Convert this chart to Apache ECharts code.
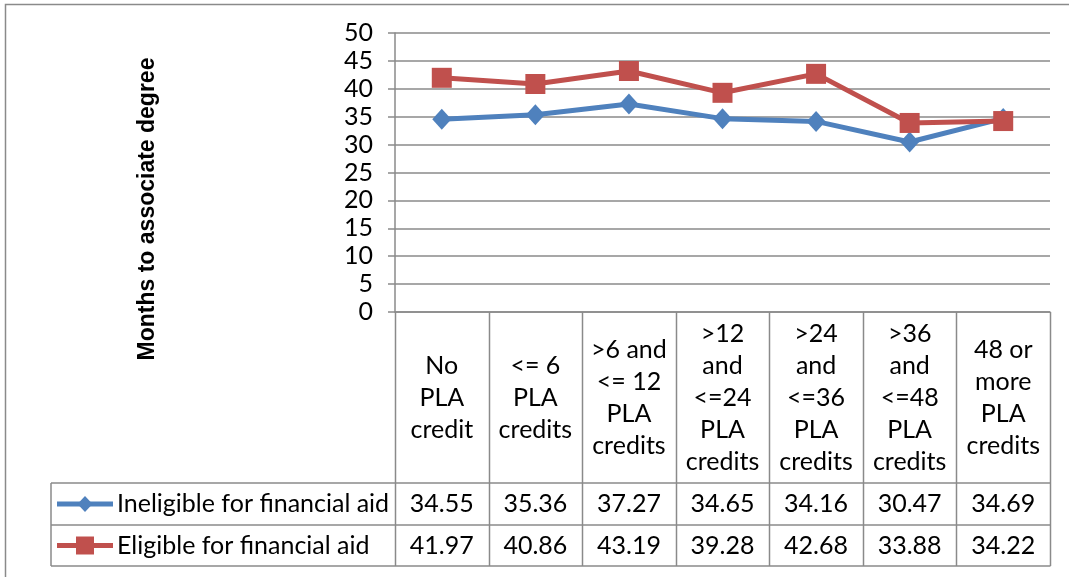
<!DOCTYPE html>
<html>
<head>
<meta charset="utf-8">
<script src="https://cdn.jsdelivr.net/npm/echarts@6/dist/echarts.min.js"></script>
<style>
html, body { margin: 0; padding: 0; background: #fff; }
#chart { width: 1069px; height: 577px; }
</style>
</head>
<body>
<div id="chart"></div>
<script>
// Column headers of the data table (one per PLA credit band)
const categories = [
  'No\nPLA\ncredit',
  '<= 6\nPLA\ncredits',
  '>6 and\n<= 12\nPLA\ncredits',
  '>12\nand\n<=24\nPLA\ncredits',
  '>24\nand\n<=36\nPLA\ncredits',
  '>36\nand\n<=48\nPLA\ncredits',
  '48 or\nmore\nPLA\ncredits'
];
const seriesNames = ['Ineligible for financial aid', 'Eligible for financial aid'];
const ineligible = [34.55, 35.36, 37.27, 34.65, 34.16, 30.47, 34.69];
const eligible = [41.97, 40.86, 43.19, 39.28, 42.68, 33.88, 34.22];
const yMin = 0, yMax = 50, yStep = 5;
const yTitle = 'Months to associate degree';

const FONT = 'Lato, "Liberation Sans", sans-serif';
const FS = 25;
const TXT = '#000';
const GRID_C = '#8a8a8a';
const TABLE_C = '#8a8a8a';
const BLUE = '#4f81bd';
const RED = '#c0504d';

// plot geometry
const G = { left: 395, right: 19, top: 33, bottom: 265 };
const W = 1069, H = 577;
const plotBottom = H - G.bottom;
const plotRight = W - G.right;
const colW = (plotRight - G.left) / categories.length;
const headerBottom = 483, row1Bottom = 525, row2Bottom = 566, legendLeft = 51;

const chart = echarts.init(document.getElementById('chart'), null, { renderer: 'canvas' });

const option = {
  animation: false,
  backgroundColor: '#fff',
  grid: { left: G.left, right: G.right, top: G.top, bottom: G.bottom },
  xAxis: {
    type: 'category',
    data: categories,
    boundaryGap: true,
    axisLine: { show: true, lineStyle: { color: GRID_C, width: 1.5 } },
    axisTick: { show: false },
    axisLabel: { show: false },
    splitLine: { show: false }
  },
  yAxis: {
    type: 'value',
    min: yMin, max: yMax, interval: yStep,
    axisLine: { show: true, lineStyle: { color: GRID_C, width: 1.5 } },
    axisTick: { show: true, inside: false, length: 7, lineStyle: { color: GRID_C, width: 1.5 } },
    axisLabel: { margin: 22, color: TXT, fontFamily: FONT, fontSize: FS },
    splitLine: { show: true, lineStyle: { color: GRID_C, width: 1.5 } }
  },
  series: [
    {
      name: seriesNames[0], type: 'line', data: ineligible,
      symbol: 'diamond', symbolSize: [19, 21],
      lineStyle: { color: BLUE, width: 5 },
      itemStyle: { color: BLUE },
      z: 2
    },
    {
      name: seriesNames[1], type: 'line', data: eligible,
      symbol: 'rect', symbolSize: 20,
      lineStyle: { color: RED, width: 5 },
      itemStyle: { color: RED },
      z: 3
    }
  ]
};
chart.setOption(option);

// data table under the plot, aligned with the category columns
const graphics = [];
const line = (x1, y1, x2, y2, color, w) => graphics.push({
  type: 'line', silent: true,
  shape: { x1, y1, x2, y2 },
  style: { stroke: color || TABLE_C, lineWidth: w || 1.5 }
});
const text = (x, y, s, opts) => graphics.push({
  type: 'text', silent: true, x, y,
  style: Object.assign({
    text: s, fill: TXT, font: FS + 'px ' + FONT,
    textAlign: 'center', textVerticalAlign: 'middle', lineHeight: 32
  }, opts || {})
});

// outer frame
graphics.push({
  type: 'rect', silent: true,
  shape: { x: 5.5, y: 4.5, width: W, height: H + 10 },
  style: { fill: null, stroke: '#8a8a8a', lineWidth: 1.5 }
});

// vertical column borders
for (let k = 0; k <= categories.length; k++) {
  const x = Math.round(G.left + k * colW) + 0.5;
  line(x, plotBottom, x, row2Bottom);
}
// legend column left border
line(legendLeft, headerBottom, legendLeft, row2Bottom);
// horizontal row borders
[headerBottom, row1Bottom, row2Bottom].forEach(y => line(legendLeft, y, plotRight + 0.5, y));

const headerMid = (plotBottom + headerBottom) / 2;
const rowMids = [(headerBottom + row1Bottom) / 2, (row1Bottom + row2Bottom) / 2];
const rows = [ineligible, eligible];

categories.forEach((c, i) => {
  const cx = chart.convertToPixel({ xAxisIndex: 0 }, i);
  text(cx, headerMid, c);
  rows.forEach((vals, r) => text(cx, rowMids[r], vals[i].toFixed(2)));
});

// legend keys inside the table
const keyX1 = 57, keyX2 = 113, keyMid = 85;
[[BLUE, 'diamond'], [RED, 'rect']].forEach(([col, sym], r) => {
  const y = rowMids[r];
  line(keyX1, y, keyX2, y, col, 5);
  if (sym === 'diamond') {
    graphics.push({ type: 'polygon', silent: true,
      shape: { points: [[keyMid, y - 8], [keyMid + 7.5, y], [keyMid, y + 8], [keyMid - 7.5, y]] },
      style: { fill: col } });
  } else {
    graphics.push({ type: 'rect', silent: true,
      shape: { x: keyMid - 9, y: y - 9, width: 18, height: 18 },
      style: { fill: col } });
  }
  text(117, y, seriesNames[r], { textAlign: 'left' });
});

// rotated axis title
graphics.push({
  type: 'text', silent: true, x: 148, y: 209, rotation: Math.PI / 2,
  style: { text: yTitle, fill: TXT, font: 'bold 23px "Liberation Sans", sans-serif',
    textAlign: 'center', textVerticalAlign: 'middle' }
});

chart.setOption({ graphic: { elements: graphics } });
</script>
</body>
</html>
